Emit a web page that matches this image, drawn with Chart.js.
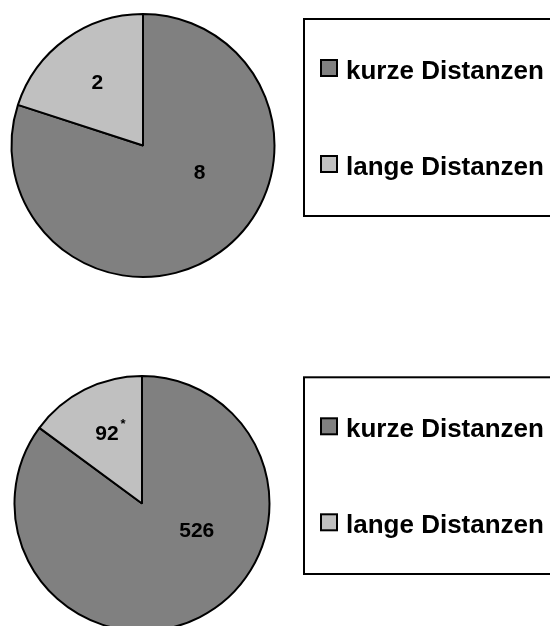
<!DOCTYPE html>
<html>
<head>
<meta charset="utf-8">
<script src="https://cdn.jsdelivr.net/npm/chart.js@4/dist/chart.umd.min.js"></script>
<style>
  html, body { margin: 0; padding: 0; background: #ffffff; }
  #wrap { position: relative; width: 550px; height: 626px; overflow: hidden; }
  #wrap canvas { position: absolute; left: 0; top: 0; }
</style>
</head>
<body>
<div id="wrap">
  <canvas id="pieTop" width="550" height="626"></canvas>
  <canvas id="pieBottom" width="550" height="626"></canvas>
</div>
<script>
// Categories shared by both pies
const categories = ['kurze Distanzen', 'lange Distanzen'];
// Upper pie: counts per category
const topValues = [8, 2];
// Lower pie: counts per category
const bottomValues = [526, 92];
// Footnote marks attached to the lower pie's value labels
const bottomNotes = ['', '*'];

const sliceColors = ['#808080', '#c0c0c0'];
const FONT = '"Liberation Sans", Arial, Helvetica, sans-serif';

// Writes each slice's value inside the slice
const sliceLabels = {
  id: 'sliceLabels',
  afterDatasetsDraw(chart, args, opts) {
    const ctx = chart.ctx;
    const ds = chart.data.datasets[0];
    const meta = chart.getDatasetMeta(0);
    ctx.save();
    meta.data.forEach((arc, i) => {
      const p = arc.getProps(['x', 'y', 'startAngle', 'endAngle', 'outerRadius'], true);
      const span = p.endAngle - p.startAngle;
      let ang, frac;
      if (span > Math.PI) {
        ang = -Math.PI / 2 + opts.bigAngle * Math.PI / 180;
        frac = opts.bigRadius;
      } else {
        ang = (p.startAngle + p.endAngle) / 2;
        frac = opts.smallRadius;
      }
      const cx = p.x + Math.cos(ang) * p.outerRadius * frac;
      const cy = p.y + Math.sin(ang) * p.outerRadius * frac;
      const txt = String(ds.data[i]);
      ctx.font = 'bold 21px ' + FONT;
      ctx.fillStyle = '#000';
      ctx.textAlign = 'center';
      ctx.textBaseline = 'middle';
      ctx.fillText(txt, cx, cy);
      const note = (opts.notes || [])[i];
      if (note) {
        const w = ctx.measureText(txt).width;
        ctx.font = 'bold 13px ' + FONT;
        ctx.textAlign = 'left';
        ctx.textBaseline = 'top';
        ctx.fillText(note, cx + w / 2 + 2, cy - 16);
      }
    });
    ctx.restore();
  }
};

// Framed legend box beside each pie
const boxLegend = {
  id: 'boxLegend',
  afterDraw(chart, args, opts) {
    const ctx = chart.ctx;
    const ds = chart.data.datasets[0];
    ctx.save();
    ctx.lineWidth = 2;
    ctx.strokeStyle = '#000';
    ctx.strokeRect(opts.left, opts.top, 400, opts.height);
    chart.data.labels.forEach((lab, i) => {
      const cy = opts.top + opts.firstRow + i * opts.rowGap;
      ctx.fillStyle = ds.backgroundColor[i];
      ctx.fillRect(321, cy - 8, 16, 16);
      ctx.lineWidth = 2;
      ctx.strokeStyle = '#000';
      ctx.strokeRect(321, cy - 8, 16, 16);
      ctx.fillStyle = '#000';
      ctx.font = 'bold 26px ' + FONT;
      ctx.textAlign = 'left';
      ctx.textBaseline = 'alphabetic';
      ctx.fillText(lab, 346, cy + 11);
    });
    ctx.restore();
  }
};

function makePie(id, values, radius, padding, labelOpts, legendOpts) {
  return new Chart(document.getElementById(id), {
    type: 'pie',
    data: {
      labels: categories,
      datasets: [{
        data: values,
        backgroundColor: sliceColors,
        borderColor: '#000000',
        borderWidth: 2,
        radius: radius,
        clip: false
      }]
    },
    options: {
      responsive: false,
      animation: false,
      layout: { padding: padding },
      plugins: {
        legend: { display: false },
        tooltip: { enabled: false },
        sliceLabels: labelOpts,
        boxLegend: legendOpts
      }
    },
    plugins: [sliceLabels, boxLegend]
  });
}

makePie('pieTop', topValues, 131.5,
  { left: 0, top: 0, right: 264, bottom: 335 },
  { bigAngle: 116.5, bigRadius: 0.48, smallRadius: 0.59, notes: [] },
  { left: 304, top: 19, height: 197, firstRow: 49, rowGap: 96 });

makePie('pieBottom', bottomValues, 127.5,
  { left: 0, top: 381, right: 266, bottom: 0 },
  { bigAngle: 116.5, bigRadius: 0.48, smallRadius: 0.61, notes: bottomNotes },
  { left: 304, top: 377.3, height: 196.7, firstRow: 49, rowGap: 96 });
</script>
</body>
</html>
